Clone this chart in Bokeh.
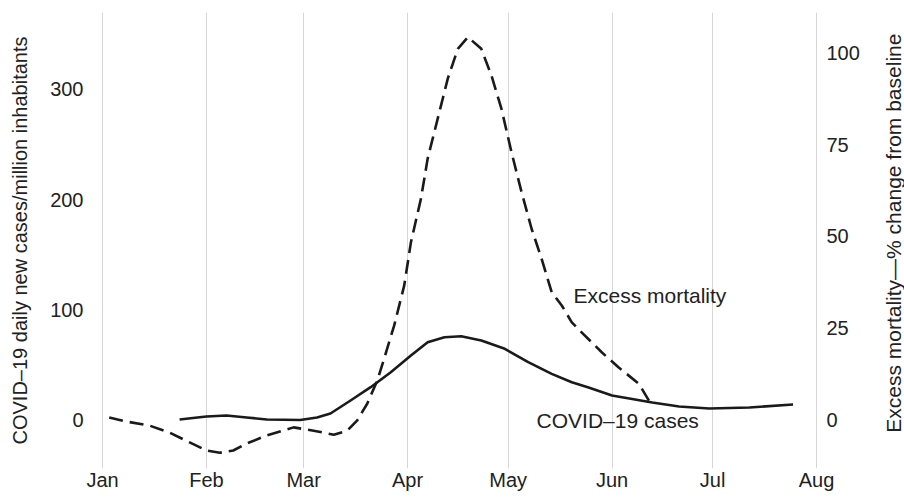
import math
import pandas as pd
from bokeh.plotting import figure
from bokeh.layouts import row
from bokeh.models import (Range1d, LinearAxis, FixedTicker, DatetimeTickFormatter,
                          ColumnDataSource)
from bokeh.embed import file_html
from bokeh.resources import INLINE
from bokeh.core.properties import value

# ---------------- data ----------------
cases_dates = ["2020-01-24", "2020-02-01", "2020-02-07", "2020-02-13", "2020-02-19",
               "2020-02-29", "2020-03-05", "2020-03-09", "2020-03-15", "2020-03-21",
               "2020-03-27", "2020-04-02", "2020-04-07", "2020-04-12", "2020-04-17",
               "2020-04-23", "2020-04-30", "2020-05-07", "2020-05-14", "2020-05-20",
               "2020-05-25", "2020-06-01", "2020-06-13", "2020-06-21", "2020-06-30",
               "2020-07-12", "2020-07-25"]
cases_values = [0.5, 3.2, 4.1, 2.3, 0.5,
                0.0, 2.3, 5.9, 17.7, 29.8,
                43.4, 58.5, 70.6, 75.1, 76.0,
                72.1, 64.6, 52.5, 41.9, 34.3,
                29.5, 22.2, 15.9, 12.3, 10.4,
                11.3, 14.1]

mort_dates = ["2020-01-03", "2020-01-08", "2020-01-15", "2020-01-21", "2020-01-27",
              "2020-02-01", "2020-02-05", "2020-02-09", "2020-02-13", "2020-02-19",
              "2020-02-27", "2020-03-04", "2020-03-10", "2020-03-14", "2020-03-17",
              "2020-03-20", "2020-03-23", "2020-03-25", "2020-03-28", "2020-03-31",
              "2020-04-02", "2020-04-05", "2020-04-07", "2020-04-10", "2020-04-13",
              "2020-04-16", "2020-04-19", "2020-04-23", "2020-04-26", "2020-04-29",
              "2020-05-02", "2020-05-05", "2020-05-08", "2020-05-11", "2020-05-14",
              "2020-05-17", "2020-05-20", "2020-05-23", "2020-05-29", "2020-06-03",
              "2020-06-09", "2020-06-12"]
mort_values = [0.7, -0.4, -1.5, -3.4, -6.1,
               -8.3, -8.9, -8.3, -6.4, -4.2,
               -2.0, -2.9, -4.0, -2.9, -0.1,
               4.5, 10.8, 16.7, 25.7, 36.6,
               48.4, 60.3, 71.2, 82.1, 93.0,
               101.1, 104.3, 101.1, 93.9, 84.8,
               73.0, 62.1, 52.1, 43.9, 34.8,
               31.2, 26.6, 23.8, 18.4, 14.3,
               9.9, 5.3]

month_ticks = ["2020-01-01", "2020-02-01", "2020-03-01", "2020-04-01",
               "2020-05-01", "2020-06-01", "2020-07-01", "2020-08-01"]
left_ticks = [0, 100, 200, 300]
right_ticks = [0, 25, 50, 75, 100]

label_texts = ["Excess mortality", "COVID\u201319 cases"]
label_dates = ["2020-05-20 12:00", "2020-05-09 12:00"]
label_values = [113, 0]

left_title = "COVID\u201319 daily new cases/million inhabitants"
right_title = "Excess mortality\u2014% change from baseline"

# ---------------- main figure ----------------
FONT = "Liberation Sans"
TXT = "#222222"
INK = "#1a1a1a"

p = figure(width=874, height=498, output_backend="svg", toolbar_location=None,
           x_axis_type="datetime",
           x_range=Range1d(pd.Timestamp("2019-12-28 17:15"), pd.Timestamp("2020-08-02 04:30")),
           y_range=Range1d(-44.0, 369.8),
           min_border_left=91, min_border_right=54, min_border_top=12, min_border_bottom=30)
p.outline_line_color = None
p.background_fill_color = "white"
p.border_fill_color = "white"

p.extra_y_ranges = {"mort": Range1d(-13.2, 111.0)}

tick_ms = [pd.Timestamp(t).value / 1e6 for t in month_ticks]
p.xaxis.ticker = FixedTicker(ticks=tick_ms)
p.xaxis.formatter = DatetimeTickFormatter(days="%b", months="%b", years="%b")
p.xgrid.ticker = FixedTicker(ticks=tick_ms)
p.xgrid.grid_line_color = "#d6d6d6"
p.xgrid.grid_line_width = 1
p.ygrid.grid_line_color = None

p.yaxis.ticker = FixedTicker(ticks=left_ticks)
p.yaxis.axis_label = left_title

right_axis = LinearAxis(y_range_name="mort", ticker=FixedTicker(ticks=right_ticks))
p.add_layout(right_axis, "right")

for ax in p.axis:
    ax.axis_line_color = None
    ax.major_tick_line_color = None
    ax.minor_tick_line_color = None
    ax.major_tick_out = 0
    ax.major_tick_in = 0
    ax.major_label_text_font = FONT
    ax.major_label_text_font_size = "20px"
    ax.major_label_text_color = TXT
    ax.axis_label_text_font = FONT
    ax.axis_label_text_font_size = "20px"
    ax.axis_label_text_font_style = "normal"
    ax.axis_label_text_color = TXT

p.xaxis.major_label_standoff = 0
p.yaxis.major_label_standoff = 8
p.yaxis.axis_label_standoff = 16
right_axis.major_label_standoff = 6

cases_src = ColumnDataSource(dict(x=pd.to_datetime(cases_dates), y=cases_values))
mort_src = ColumnDataSource(dict(x=pd.to_datetime(mort_dates), y=mort_values))

p.line("x", "y", source=cases_src, line_color=INK, line_width=2.6, line_join="round")
p.line("x", "y", source=mort_src, line_color=INK, line_width=2.6, line_dash="14 7",
       line_join="round", y_range_name="mort")

lab_src = ColumnDataSource(dict(x=pd.to_datetime(label_dates), y=label_values, t=label_texts))
p.text("x", "y", text="t", source=lab_src, text_font=value(FONT), text_font_size="21px",
       text_color=TXT, text_align="left", text_baseline="middle")

# ---------------- narrow strip holding the right-hand axis title ----------------
strip = figure(width=30, height=498, output_backend="svg", toolbar_location=None,
               x_axis_location=None, y_axis_location=None,
               x_range=Range1d(0, 30), y_range=Range1d(0, 498),
               min_border=0, min_border_left=0, min_border_right=0,
               min_border_top=0, min_border_bottom=0)
strip.outline_line_color = None
strip.background_fill_color = "white"
strip.border_fill_color = "white"
strip.xgrid.visible = False
strip.ygrid.visible = False
strip.grid.visible = False
strip.text(x=[18.5], y=[257], text=[right_title], angle=math.pi / 2,
           text_font=value(FONT), text_font_size="21px", text_color=TXT,
           text_align="center", text_baseline="middle")

layout = row(p, strip, spacing=0)
open("out.html", "w").write(file_html(layout, INLINE))
